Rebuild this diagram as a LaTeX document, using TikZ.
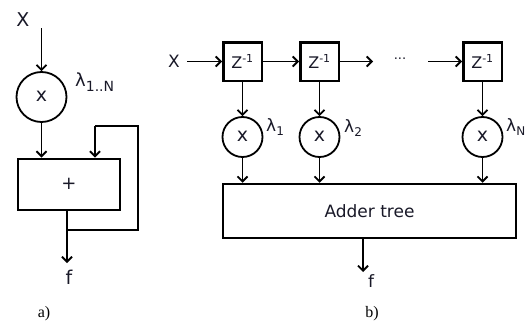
\documentclass[tikz,border=0pt]{standalone}
\usepackage{fontspec}
\setmainfont{Liberation Serif}
\newfontfamily\dv{DejaVu Sans}
\usetikzlibrary{arrows.meta}
\definecolor{txt}{RGB}{25,25,40}
\newcommand{\fs}[1]{\fontsize{#1}{#1}\selectfont}
\begin{document}
\begin{tikzpicture}[x=1pt,y=-1pt,
  ln/.style={line width=1.8pt},
  arr/.style={ln,-{Straight Barb[length=5pt,width=10pt]}},
  lab/.style={inner sep=0pt,text=txt,font=\dv\fs{17}},
  mul/.style={circle,draw,line width=1.8pt,inner sep=0pt,text=txt,font=\dv\fs{19}},
  zbox/.style={draw,line width=2.5pt,minimum width=38.5pt,minimum height=38.5pt,inner sep=0pt,text=txt,font=\dv\fs{16}},
  captxt/.style={inner sep=0pt,font=\fs{16}}
]
\useasboundingbox (0,0) rectangle (530,324);

% ---------- panel a ----------
\node[lab,font=\dv\fs{19}] (xa) at (23,20) {X};
\coordinate (xa0) at (41.5,28);
\node[mul,minimum size=50pt] (ma) at (41.5,97) {\raisebox{1pt}{x}};
\node[lab,anchor=west] (la) at (75,82) {\fs{18}λ\raisebox{-5pt}{\fs{14}1..N}};
\node[draw,line width=2pt,minimum width=102pt,minimum height=51pt,inner sep=0pt,text=txt,font=\dv\fs{18}] (sa) at (69,184) {\raisebox{-3pt}{+}};
\coordinate (ja) at (67,230);
\coordinate (fba) at (138,126);
\coordinate (fbb) at (95,126);
\coordinate (oa) at (67,263);
\node[lab,font=\dv\fs{19}] (fa) at (69,277) {f};
\node[captxt] (ca) at (44,314) {a)};

\draw[arr] (xa0) -- (ma);
\draw[arr] (ma) -- (ma |- sa.north);
\draw[ln] (sa.south -| ja) -- (ja) -| (fba) -- (fbb);
\draw[arr] (fbb) -- (fbb |- sa.north);
\draw[arr] (sa.south -| oa) -- (oa);

% ---------- panel b ----------
\node[lab] (xb) at (174,61) {X};
\coordinate (xb0) at (187,61.5);
\node[zbox] (z1) at (242.5,61.5) {Z\textsuperscript{\fs{11}-1}};
\node[zbox] (z2) at (319.5,61.5) {Z\textsuperscript{\fs{11}-1}};
\node[zbox] (z3) at (482.5,61.5) {Z\textsuperscript{\fs{11}-1}};
\node[lab,font=\dv\fs{13}] (dots) at (400,59) {...};
\coordinate (d0) at (373,61.5);
\coordinate (d1) at (428,61.5);

\node[mul,minimum size=40pt] (m1) at (242.5,137) {\raisebox{1pt}{x}};
\node[mul,minimum size=40pt] (m2) at (319.5,137) {\raisebox{1pt}{x}};
\node[mul,minimum size=40pt] (m3) at (482.5,137) {\raisebox{1pt}{x}};
\node[lab,anchor=west] (l1) at (266,127) {\fs{17}λ\raisebox{-4pt}{\fs{12}1}};
\node[lab,anchor=west] (l2) at (344,128) {\fs{17}λ\raisebox{-4pt}{\fs{12}2}};
\node[lab,anchor=west] (l3) at (506,127) {\fs{17}λ\raisebox{-4pt}{\fs{12}N}};

\node[draw,line width=2.5pt,minimum width=293pt,minimum height=54pt,inner sep=0pt,text=txt,font=\dv\fs{17}] (add) at (369.5,211) {Adder tree};
\coordinate (ob) at (363,272);
\node[lab,font=\dv\fs{17}] (fb) at (371,281) {f};
\node[captxt] (cb) at (372,314) {b)};

\draw[arr] (xb0) -- (z1);
\draw[arr] (z1) -- (z2);
\draw[arr] (z2) -- (d0);
\draw[arr] (d1) -- (z3);
\draw[arr] (z1) -- (m1);
\draw[arr] (z2) -- (m2);
\draw[arr] (z3) -- (m3);
\draw[arr] (m1) -- (m1 |- add.north);
\draw[arr] (m2) -- (m2 |- add.north);
\draw[arr] (m3) -- (m3 |- add.north);
\draw[arr] (add.south -| ob) -- (ob);
\end{tikzpicture}
\end{document}
